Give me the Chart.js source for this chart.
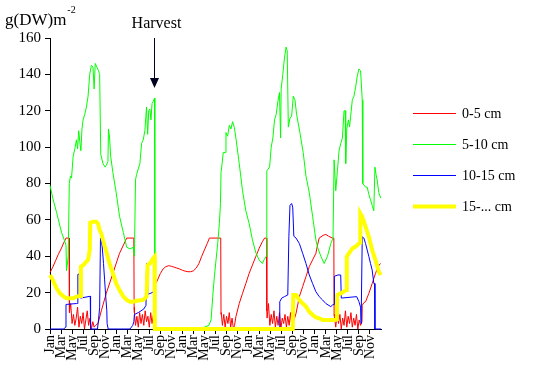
<!DOCTYPE html>
<html>
<head>
<meta charset="utf-8">
<script src="https://cdn.jsdelivr.net/npm/chart.js@4.4.1/dist/chart.umd.min.js"></script>
<style>
html,body{margin:0;padding:0;background:#fff;}
canvas{display:block;}
</style>
</head>
<body>
<canvas id="c" width="534" height="380"></canvas>
<script>
// Month positions: 0 = Jan of year 1, 60 = end of year 5
const tickMonths = [0,2,4,6,8,10,12,14,16,18,20,22,24,26,28,30,32,34,36,38,40,42,44,46,48,50,52,54,56,58];
const tickLabels = ['Jan','Mar','May','Jul','Sep','Nov','Jan','Mar','May','Jul','Sep','Nov','Jan','Mar','May','Jul','Sep','Nov','Jan','Mar','May','Jul','Sep','Nov','Jan','Mar','May','Jul','Sep','Nov'];
const seriesLabels = ['0-5 cm','5-10 cm','10-15 cm','15-... cm'];
const harvestMonth = 18.85;

const redMonths = [0,0.5,1.0,1.5,2.0,2.5,2.9,3.45,3.5,3.55,3.75,4.0,4.25,4.5,4.75,5.0,5.25,5.5,5.75,6.0,6.25,6.5,6.75,7.0,7.25,7.5,7.75,8.0,8.25,8.7,9.3,10.2,11.4,12.6,13.6,13.9,15.2,15.25,15.3,15.5,15.75,16.0,16.25,16.5,16.75,17.0,17.25,17.5,17.75,18.0,18.25,18.5,18.75,18.95,19.0,19.5,20.0,20.5,21.0,21.5,22.0,22.5,23.0,23.5,24.0,24.5,25.0,25.5,26.0,26.5,27.0,27.5,28.0,28.5,28.9,30.95,31.0,31.05,31.25,31.5,31.75,32.0,32.25,32.5,32.75,33.0,33.25,33.45,33.7,34.3,34.9,35.5,36.1,36.7,37.3,37.9,38.5,38.9,39.25,39.3,39.35,39.6,39.85,40.1,40.35,40.6,40.85,41.1,41.35,41.6,41.85,42.1,42.35,42.6,42.85,43.1,43.35,43.6,43.85,44.05,44.2,44.6,45.2,45.8,46.4,47.0,47.6,48.2,48.5,48.8,49.5,50.0,50.5,51.2,51.45,51.5,51.55,51.8,52.05,52.3,52.55,52.8,53.05,53.3,53.55,53.8,54.05,54.3,54.55,54.8,55.05,55.3,55.55,55.8,56.05,56.3,56.55,56.6,56.9,57.2,57.8,58.4,59.0,59.6,59.95];
const redValues = [31,34,37.5,41,44,47.5,50,50,10,9,14,3,8,2,6,12,1,7,3,9,0,5,10,2,6,0,4,1,2,3,10,19.6,30.6,41.6,48,50,50,12,9,2,7,1,9,3,8,2,10,4,7,1,9,3,8,4,24,27,30.5,33,34.3,34.8,34.5,34,33.5,33,32.3,31.8,31.5,31.5,32,33.5,36,40,43.5,47,50,50,8,9,2,8,1,7,3,9,1,6,0,2,6.8,14,19.6,25,30.6,35.2,39.8,44.3,48,50,50,10,6,14,2,8,3,10,1,7,2,9,0,6,3,8,1,7,2,9,1,3,3,8.6,17.8,23.3,28.8,34.3,38,41.6,46.2,50,51.5,52,51,50,50,8,7,1,9,3,8,0,6,2,10,1,7,3,9,1,6,2,8,0,5,2,4,13,14.5,15,19.6,25,30.6,35,36];

const greenMonths = [0,0.5,1.2,2.1,2.7,2.9,3.0,3.3,3.5,3.7,3.9,4.2,4.5,4.8,5.0,5.2,5.4,5.6,5.8,6.0,6.3,6.6,6.9,7.2,7.5,7.8,8.0,8.2,8.5,8.8,9.0,9.2,9.6,10.0,10.2,10.5,10.6,10.8,11.0,11.4,12.0,12.6,13.3,13.9,14.5,15.1,15.3,15.5,15.7,16.0,16.3,16.6,16.9,17.2,17.5,17.7,17.9,18.1,18.3,18.5,18.7,18.95,19.0,27.5,28.0,28.8,29.2,29.5,29.8,30.1,30.4,30.7,30.9,31.0,31.2,31.4,31.8,31.9,32.2,32.5,32.8,33.1,33.4,33.7,34.3,34.9,35.5,36.1,36.7,37.3,37.9,38.5,38.8,39.2,39.3,39.8,40.1,40.4,40.7,41.0,41.3,41.6,41.8,41.9,42.2,42.5,42.8,43.0,43.2,43.5,43.8,44.1,44.4,44.7,45.3,45.9,46.4,47.0,47.6,48.2,48.5,49.1,49.7,50.3,50.9,51.3,51.5,51.8,52.1,52.4,52.7,53.0,53.3,53.5,53.6,53.8,54.1,54.3,54.5,54.8,55.1,55.4,55.7,56.0,56.3,56.6,56.7,57.2,57.5,57.8,58.1,58.4,58.7,58.9,59.1,59.3,59.6,59.95];
const greenValues = [79,72,64,53,48,46,32,40,80,84,83,95,99,104,99,109,103,98,110,115,118,122,128,140,145,144,132,146,144,142,140,96,91,89,90,92,110,105,95,86,75,62,53,45,44,45,40,82,85,88,91,102,104,109,122,107,120,121,115,124,125,127,0,0,1,2,5,18,29,38,47,58,69,86,91,97,97,108,106,112,110,114,111,105,91,76,65,58,49,42,38,36,38,40,87,89,100,105,115,118,125,130,105,132,140,149,155,153,111,116,117,128,126,118,108,97,84,75,62,49,45,40,36,40,47,50,93,76,87,98,102,105,120,120,91,110,115,111,117,126,128,133,139,143,142,126,80,78,78,74,71,68,65,89,85,82,75,72];

const blueMonths = [0,2.5,2.8,2.9,4.8,5.0,5.05,5.5,5.55,7.3,7.35,8.6,8.8,9.0,9.15,9.3,9.5,9.7,9.9,10.1,10.3,10.35,10.5,10.55,14.5,15.0,15.2,15.3,16.0,17.0,17.4,17.5,17.65,17.7,18.5,18.95,19.0,41.6,41.65,42.0,42.5,43.1,43.3,43.5,43.8,44.0,44.2,44.6,45.2,45.8,46.4,47.0,47.6,48.2,48.8,49.4,50.0,50.9,51.2,51.5,51.55,52.2,52.7,52.8,55.6,56.0,56.3,56.4,56.55,56.6,56.9,57.2,57.5,57.8,58.1,58.4,58.7,58.85,58.9,60];
const blueValues = [0,0,1,13.5,14,14,30,30.5,17,18,0,0,5,12,50,49,44,36,27,18,10,3,3,0,0,2,4,8,9,11,13,36,36,19,20,21,0,0,15,17,17.8,18.7,50.7,68,69,67,51,50,47,41.6,36,29.7,25,20.5,17.8,16,14,12.3,13.2,13.5,29,29.7,29.7,17,17.8,15,12,3,3,50.7,50,47,43.4,39.8,36,32.4,25,25,0,0];

const yellowMonths = [0,0.5,1.2,1.8,2.5,3.0,3.9,4.2,4.8,5.4,5.55,5.6,6.0,6.6,6.9,7.2,7.3,7.8,8.4,8.7,9.0,9.3,9.6,10.2,10.8,11.4,12.0,12.6,13.3,13.9,14.5,15.1,15.7,16.9,17.5,17.7,18.1,18.7,18.95,19.0,44.0,44.1,44.6,45.2,45.8,46.4,47.0,47.6,48.2,48.8,49.4,51.6,52.0,52.05,52.7,53.7,53.8,54.2,54.8,55.4,56.0,56.2,56.25,56.6,57.2,57.8,58.4,59.0,59.6,59.95];
const yellowValues = [29.7,27,22.4,19.6,17.8,16.9,16.9,16.9,17.8,18.1,18.1,34.3,35,37,38,43.4,58.5,59,59,58,54.4,52.6,48.9,42.5,36,30.6,25,21.4,17.8,16,15,15,15.5,16,17.8,35.2,36,38.8,39.7,0,0,18.7,18.7,16,14.1,12.3,9.5,7.7,6.4,5.9,5,5,5.3,18.7,19.6,21.4,39.8,41.6,44.3,45.3,47,47.5,63.6,61.7,56.3,50.7,43.4,37.9,31.5,29.7];

function pts(xs, ys){ return xs.map((x,i)=>({x:x, y:ys[i]})); }

const SERIF = "'Liberation Serif', 'Times New Roman', serif";

const overlay = {
  id: 'overlay',
  afterDraw(chart){
    const c = chart.ctx;
    c.save();
    c.fillStyle = '#000';
    c.textBaseline = 'alphabetic';
    c.textAlign = 'left';
    c.font = '17px ' + SERIF;
    c.fillText('g(DW)m', 5, 25);
    const w = c.measureText('g(DW)m').width;
    c.font = '10px ' + SERIF;
    c.fillText('-2', 5 + w + 1, 13);
    // Harvest annotation
    const hx = Math.round(chart.scales.x.getPixelForValue(harvestMonth)) + 0.5;
    c.font = '16px ' + SERIF;
    c.textAlign = 'center';
    c.fillText('Harvest', hx + 2, 28);
    c.strokeStyle = '#000022';
    c.fillStyle = '#000022';
    c.lineWidth = 1;
    c.beginPath();
    c.moveTo(hx, 38);
    c.lineTo(hx, 82);
    c.stroke();
    c.beginPath();
    c.moveTo(hx - 4.5, 78);
    c.lineTo(hx + 4.5, 78);
    c.lineTo(hx, 88);
    c.closePath();
    c.fill();
    // Legend
    c.textAlign = 'left';
    c.textBaseline = 'middle';
    c.font = '14px ' + SERIF;
    chart.data.datasets.forEach((ds, i) => {
      const y = 113.5 + i * 31;
      c.strokeStyle = ds.borderColor;
      c.lineWidth = ds.borderWidth;
      c.beginPath();
      c.moveTo(413, y);
      c.lineTo(456, y);
      c.stroke();
      c.fillStyle = '#000';
      c.fillText(ds.label, 462, y + 1);
    });
    c.restore();
  }
};

const axisCommon = {
  grid: {display: true, drawOnChartArea: false, drawTicks: true, tickLength: 5, color: '#000', lineWidth: 1},
  border: {display: true, color: '#000', width: 1}
};

new Chart(document.getElementById('c'), {
  type: 'line',
  data: {
    datasets: [
      {label: seriesLabels[0], data: pts(redMonths, redValues), borderColor: '#ff0000', borderWidth: 1, order: 4},
      {label: seriesLabels[1], data: pts(greenMonths, greenValues), borderColor: '#00ff00', borderWidth: 1, order: 3},
      {label: seriesLabels[2], data: pts(blueMonths, blueValues), borderColor: '#0000ff', borderWidth: 1, order: 2},
      {label: seriesLabels[3], data: pts(yellowMonths, yellowValues), borderColor: '#ffff00', borderWidth: 4, order: 1}
    ]
  },
  options: {
    responsive: false,
    animation: false,
    parsing: false,
    elements: {point: {radius: 0}, line: {tension: 0, fill: false, borderJoinStyle: 'miter'}},
    datasets: {line: {clip: false}},
    layout: {padding: {left: 0, top: 38, right: 153, bottom: 0}},
    plugins: {legend: {display: false}, tooltip: {enabled: false}, title: {display: false}},
    scales: {
      x: Object.assign({
        type: 'linear', min: 0, max: 60,
        afterBuildTicks: s => { s.ticks = tickMonths.map(v => ({value: v})); },
        afterFit: s => { s.height = 51; },
        ticks: {
          autoSkip: false, maxRotation: 90, minRotation: 90, padding: 1,
          color: '#000', font: {family: SERIF, size: 14},
          callback: v => tickLabels[Math.round(v / 2)]
        }
      }, axisCommon),
      y: Object.assign({
        min: 0, max: 160,
        afterFit: s => { s.width = 50; },
        ticks: {stepSize: 20, padding: 4, color: '#000', font: {family: SERIF, size: 15}}
      }, axisCommon)
    }
  },
  plugins: [overlay]
});
</script>
</body>
</html>
